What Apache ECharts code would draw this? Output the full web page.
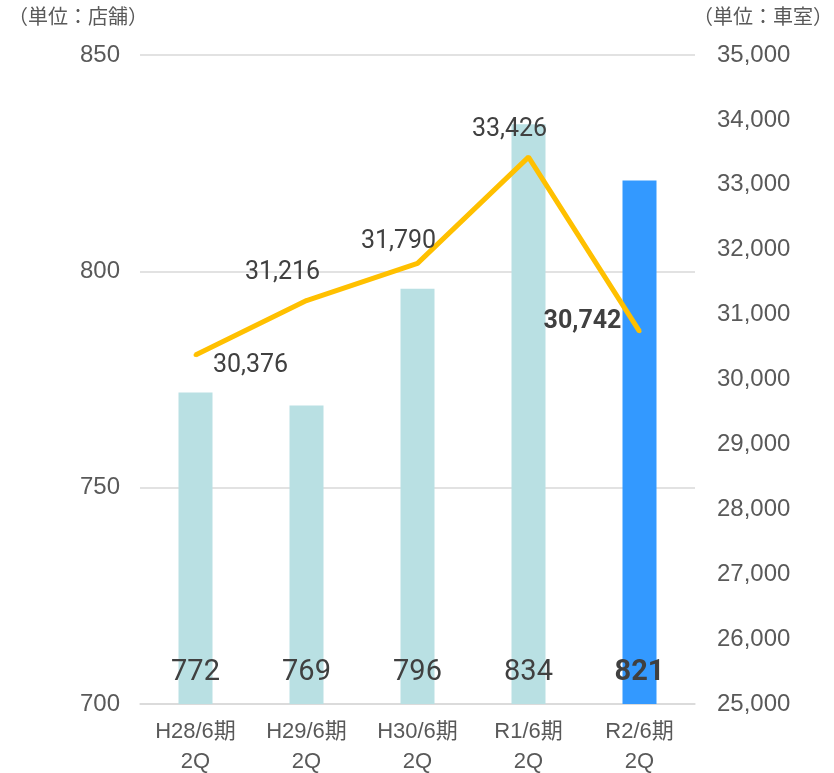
<!DOCTYPE html>
<html>
<head>
<meta charset="utf-8">
<script src="https://cdn.jsdelivr.net/npm/echarts@6/dist/echarts.min.js"></script>
<style>
html,body{margin:0;padding:0;background:#fff;}
#main{width:834px;height:773px;}
</style>
</head>
<body>
<div id="main"></div>
<script>
// データ
var categories = ['H28/6期\n2Q', 'H29/6期\n2Q', 'H30/6期\n2Q', 'R1/6期\n2Q', 'R2/6期\n2Q'];
var stores = [772, 769, 796, 834, 821];
var parking = [30376, 31216, 31790, 33426, 30742];
// 車室数ラベルのずれ
var lineLabelOffsets = [[55, 25], [-24, -13], [-19, -7], [-19, -13], [-57, 5]];

var axisFont = '"Liberation Sans", Arial, "Noto Sans CJK JP", sans-serif';
var numFont = 'Roboto, "Noto Sans CJK JP", sans-serif';
var chart = echarts.init(document.getElementById('main'));

var barData = stores.map(function (v, i) {
  return {
    value: v,
    itemStyle: { color: i === stores.length - 1 ? '#3399FF' : '#B9E0E3' },
    label: { fontWeight: i === stores.length - 1 ? 'bold' : 'normal' }
  };
});

var lineData = parking.map(function (v, i) {
  return {
    value: v,
    label: {
      offset: lineLabelOffsets[i],
      fontWeight: i === parking.length - 1 ? 'bold' : 'normal'
    }
  };
});

var option = {
  animation: false,
  grid: { left: 140, right: 139, top: 55, bottom: 69, outerBoundsMode: 'none' },
  graphic: [
    { type: 'text', left: 8, top: 6, style: { text: '（単位：店舗）', font: '20px "Noto Sans CJK JP"', fill: '#595959' } },
    { type: 'text', right: 1, top: 6, style: { text: '（単位：車室）', font: '20px "Noto Sans CJK JP"', fill: '#595959' } }
  ],
  xAxis: {
    type: 'category',
    data: categories,
    axisTick: { show: false },
    axisLine: { lineStyle: { color: '#d9d9d9', width: 1.5 } },
    axisLabel: { color: '#595959', fontSize: 22, lineHeight: 30, margin: 13, fontFamily: axisFont }
  },
  yAxis: [
    {
      type: 'value', min: 700, max: 850, interval: 50,
      axisLine: { show: false }, axisTick: { show: false },
      axisLabel: { color: '#595959', fontSize: 24, margin: 20, fontFamily: axisFont },
      splitLine: { lineStyle: { color: '#d9d9d9', width: 1.5 } }
    },
    {
      type: 'value', min: 25000, max: 35000, interval: 1000,
      axisLine: { show: false }, axisTick: { show: false },
      splitLine: { show: false },
      axisLabel: {
        color: '#595959', fontSize: 24, margin: 22, fontFamily: axisFont,
        formatter: function (v) { return v.toLocaleString('en-US'); }
      }
    }
  ],
  series: [
    {
      name: '店舗数', type: 'bar', data: barData, barWidth: 34, yAxisIndex: 0,
      label: {
        show: true, position: 'insideBottom', distance: 17,
        color: '#404040', fontSize: 29, fontFamily: numFont
      }
    },
    {
      name: '車室数', type: 'line', data: lineData, yAxisIndex: 1,
      symbol: 'circle', symbolSize: 4, showSymbol: true,
      itemStyle: { color: '#FFC000' },
      lineStyle: { color: '#FFC000', width: 5 },
      label: {
        show: true, position: 'top', distance: 0, color: '#404040', fontSize: 25, fontFamily: numFont,
        formatter: function (p) { return p.value.toLocaleString('en-US'); }
      }
    }
  ]
};
chart.setOption(option);
</script>
</body>
</html>
